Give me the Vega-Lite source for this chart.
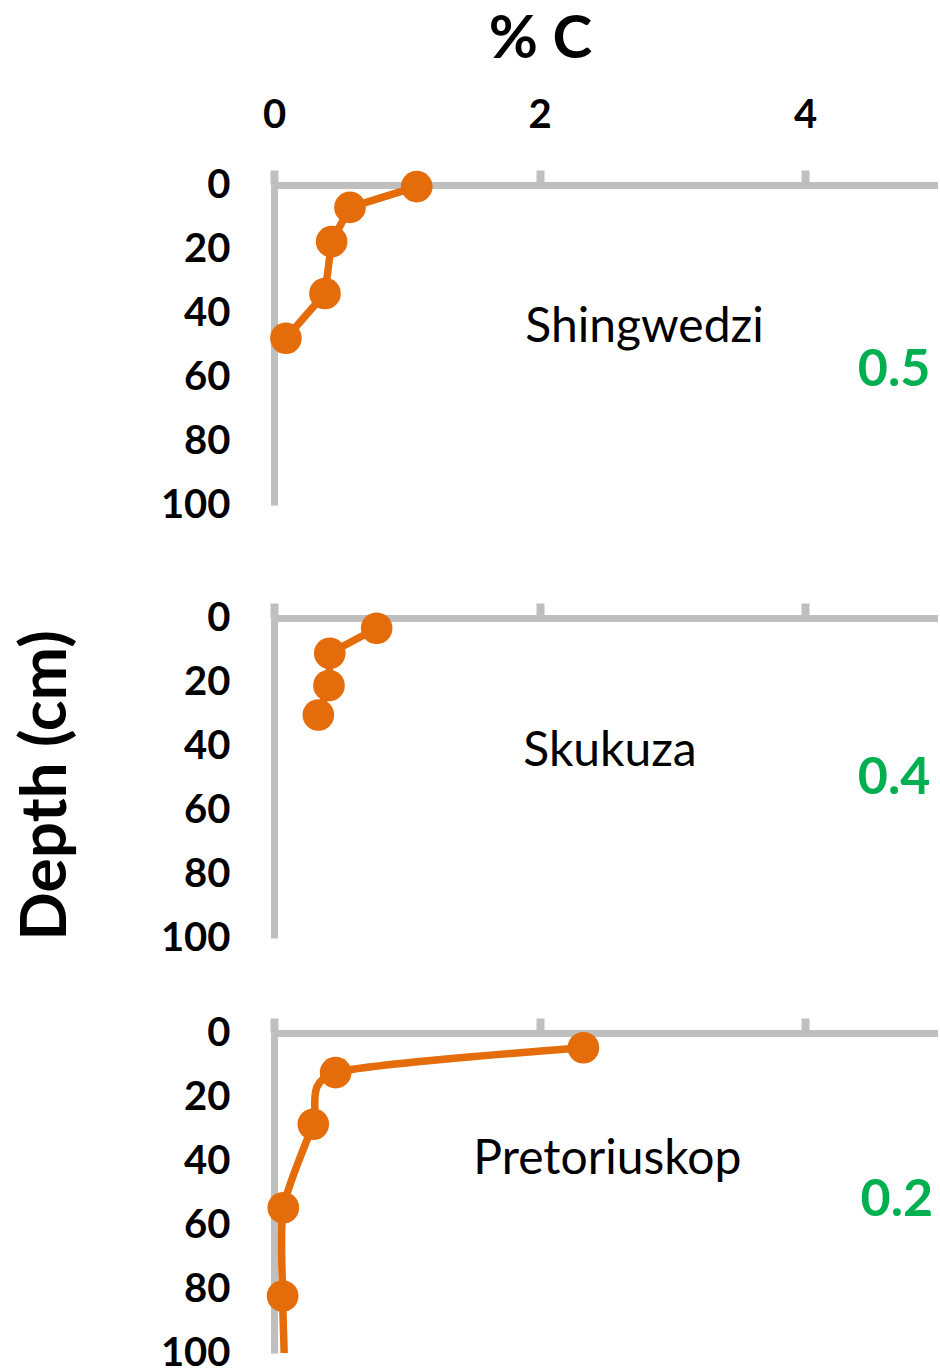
{
  "$schema": "https://vega.github.io/schema/vega-lite/v6.json",
  "padding": {"left": 14, "top": 9, "right": 0, "bottom": 0},
  "background": "white",
  "config": {
    "view": {"stroke": null},
    "font": "Lato",
    "axis": {
      "domainColor": "#BFBFBF",
      "domainWidth": 7,
      "tickColor": "#BFBFBF",
      "tickWidth": 8,
      "grid": false,
      "labelFont": "Lato",
      "labelFontWeight": "bold",
      "labelFontSize": 40,
      "labelColor": "#000000",
      "labelFlush": false,
      "labelOverlap": false
    }
  },
  "datasets": {
    "profiles": [
      {"site": "Shingwedzi", "depth": 0.5, "carbon": 1.075},
      {"site": "Shingwedzi", "depth": 7.0, "carbon": 0.572},
      {"site": "Shingwedzi", "depth": 17.7, "carbon": 0.434},
      {"site": "Shingwedzi", "depth": 33.9, "carbon": 0.384},
      {"site": "Shingwedzi", "depth": 47.9, "carbon": 0.09},
      {"site": "Skukuza", "depth": 3.2, "carbon": 0.773},
      {"site": "Skukuza", "depth": 11.0, "carbon": 0.42},
      {"site": "Skukuza", "depth": 21.1, "carbon": 0.414},
      {"site": "Skukuza", "depth": 30.3, "carbon": 0.334},
      {"site": "Pretoriuskop", "depth": 4.6, "carbon": 2.33},
      {"site": "Pretoriuskop", "depth": 12.4, "carbon": 0.464},
      {"site": "Pretoriuskop", "depth": 28.5, "carbon": 0.296},
      {"site": "Pretoriuskop", "depth": 54.6, "carbon": 0.07},
      {"site": "Pretoriuskop", "depth": 82.2, "carbon": 0.065},
      {"site": "Pretoriuskop", "depth": 110, "carbon": 0.085}
    ],
    "sites": [
      {"site": "Shingwedzi", "value": "0.5", "lx": 2.79, "ly": 44.8, "vx": 4.67, "vy": 57.8},
      {"site": "Skukuza", "value": "0.4", "lx": 2.53, "ly": 41.8, "vx": 4.67, "vy": 50.0},
      {"site": "Pretoriuskop", "value": "0.2", "lx": 2.51, "ly": 39.6, "vx": 4.69, "vy": 52.2}
    ]
  },
  "spacing": 73,
  "vconcat": [
    {
      "width": 664,
      "height": 320,
      "layer": [
        {
          "data": {"name": "profiles"},
          "transform": [{"filter": "datum.site == 'Shingwedzi'"}],
          "mark": {"type": "line", "color": "#E46C0A", "strokeWidth": 7.5, "clip": true},
          "encoding": {
            "x": {"field": "carbon", "type": "quantitative",
              "scale": {"domain": [0, 5], "nice": false, "zero": false},
              "axis": {"orient": "top", "values": [0, 2, 4], "format": "d", "tickSize": 15, "labelPadding": 35,
                "title": "% C", "titleFont": "Lato", "titleFontSize": 60, "titleFontWeight": "bold", "titleColor": "#000000",
                "titleX": 266, "titleY": -128, "titleBaseline": "alphabetic", "titleAlign": "center", "titleAngle": 0}},
            "y": {"field": "depth", "type": "quantitative",
              "scale": {"domain": [0, 100], "reverse": true, "nice": false},
              "axis": {"orient": "left", "values": [0, 20, 40, 60, 80, 100], "format": "d", "ticks": false, "tickSize": 0, "labelPadding": 44, "title": null}},
            "order": {"field": "depth", "type": "quantitative"}
          }
        },
        {
          "data": {"name": "profiles"},
          "transform": [{"filter": "datum.site == 'Shingwedzi' && datum.depth <= 100"}],
          "mark": {"type": "point", "filled": true, "color": "#E46C0A", "size": 1000, "opacity": 1},
          "encoding": {
            "x": {"field": "carbon", "type": "quantitative"},
            "y": {"field": "depth", "type": "quantitative"}
          }
        },
        {
          "data": {"name": "sites"},
          "transform": [{"filter": "datum.site == 'Shingwedzi'"}],
          "mark": {"type": "text", "font": "Lato", "fontSize": 48, "fill": "#000000", "align": "center", "baseline": "middle"},
          "encoding": {"x": {"field": "lx", "type": "quantitative"}, "y": {"field": "ly", "type": "quantitative"}, "text": {"field": "site"}}
        },
        {
          "data": {"name": "sites"},
          "transform": [{"filter": "datum.site == 'Shingwedzi'"}],
          "mark": {"type": "text", "font": "Lato", "fontSize": 52, "fontWeight": "bold", "fill": "#00B050", "align": "center", "baseline": "middle"},
          "encoding": {"x": {"field": "vx", "type": "quantitative"}, "y": {"field": "vy", "type": "quantitative"}, "text": {"field": "value"}}
        }
      ]
    },
    {
      "spacing": 55,
      "vconcat": [
        {
          "width": 664,
          "height": 320,
          "layer": [
            {
              "data": {"name": "profiles"},
              "transform": [{"filter": "datum.site == 'Skukuza'"}],
              "mark": {"type": "line", "color": "#E46C0A", "strokeWidth": 7.5, "clip": true},
              "encoding": {
                "x": {"field": "carbon", "type": "quantitative",
                  "scale": {"domain": [0, 5], "nice": false, "zero": false},
                  "axis": {"orient": "top", "values": [0, 2, 4], "tickSize": 15, "labels": false, "title": null}},
                "y": {"field": "depth", "type": "quantitative",
                  "scale": {"domain": [0, 100], "reverse": true, "nice": false},
                  "axis": {"orient": "left", "values": [0, 20, 40, 60, 80, 100], "format": "d", "ticks": false, "tickSize": 0, "labelPadding": 44,
                    "title": "Depth (cm)", "titleFont": "Lato", "titleFontSize": 64, "titleFontWeight": "bold", "titleColor": "#000000",
                    "titleX": -209, "titleY": 167, "titleBaseline": "alphabetic", "titleAlign": "center", "titleAngle": 270}},
                "order": {"field": "depth", "type": "quantitative"}
              }
            },
            {
              "data": {"name": "profiles"},
              "transform": [{"filter": "datum.site == 'Skukuza' && datum.depth <= 100"}],
              "mark": {"type": "point", "filled": true, "color": "#E46C0A", "size": 1000, "opacity": 1},
              "encoding": {
                "x": {"field": "carbon", "type": "quantitative"},
                "y": {"field": "depth", "type": "quantitative"}
              }
            },
            {
              "data": {"name": "sites"},
              "transform": [{"filter": "datum.site == 'Skukuza'"}],
              "mark": {"type": "text", "font": "Lato", "fontSize": 48, "fill": "#000000", "align": "center", "baseline": "middle"},
              "encoding": {"x": {"field": "lx", "type": "quantitative"}, "y": {"field": "ly", "type": "quantitative"}, "text": {"field": "site"}}
            },
            {
              "data": {"name": "sites"},
              "transform": [{"filter": "datum.site == 'Skukuza'"}],
              "mark": {"type": "text", "font": "Lato", "fontSize": 52, "fontWeight": "bold", "fill": "#00B050", "align": "center", "baseline": "middle"},
              "encoding": {"x": {"field": "vx", "type": "quantitative"}, "y": {"field": "vy", "type": "quantitative"}, "text": {"field": "value"}}
            }
          ]
        },
        {
          "width": 664,
          "height": 320,
          "layer": [
            {
              "data": {"name": "profiles"},
              "transform": [{"filter": "datum.site == 'Pretoriuskop'"}],
              "mark": {"type": "line", "color": "#E46C0A", "strokeWidth": 7.5, "clip": true, "interpolate": "cardinal", "tension": 0.3},
              "encoding": {
                "x": {"field": "carbon", "type": "quantitative",
                  "scale": {"domain": [0, 5], "nice": false, "zero": false},
                  "axis": {"orient": "top", "values": [0, 2, 4], "tickSize": 15, "labels": false, "title": null}},
                "y": {"field": "depth", "type": "quantitative",
                  "scale": {"domain": [0, 100], "reverse": true, "nice": false},
                  "axis": {"orient": "left", "values": [0, 20, 40, 60, 80, 100], "format": "d", "ticks": false, "tickSize": 0, "labelPadding": 44, "title": null}},
                "order": {"field": "depth", "type": "quantitative"}
              }
            },
            {
              "data": {"name": "profiles"},
              "transform": [{"filter": "datum.site == 'Pretoriuskop' && datum.depth <= 100"}],
              "mark": {"type": "point", "filled": true, "color": "#E46C0A", "size": 1000, "opacity": 1},
              "encoding": {
                "x": {"field": "carbon", "type": "quantitative"},
                "y": {"field": "depth", "type": "quantitative"}
              }
            },
            {
              "data": {"name": "sites"},
              "transform": [{"filter": "datum.site == 'Pretoriuskop'"}],
              "mark": {"type": "text", "font": "Lato", "fontSize": 48, "fill": "#000000", "align": "center", "baseline": "middle"},
              "encoding": {"x": {"field": "lx", "type": "quantitative"}, "y": {"field": "ly", "type": "quantitative"}, "text": {"field": "site"}}
            },
            {
              "data": {"name": "sites"},
              "transform": [{"filter": "datum.site == 'Pretoriuskop'"}],
              "mark": {"type": "text", "font": "Lato", "fontSize": 52, "fontWeight": "bold", "fill": "#00B050", "align": "center", "baseline": "middle"},
              "encoding": {"x": {"field": "vx", "type": "quantitative"}, "y": {"field": "vy", "type": "quantitative"}, "text": {"field": "value"}}
            }
          ]
        }
      ]
    }
  ]
}
